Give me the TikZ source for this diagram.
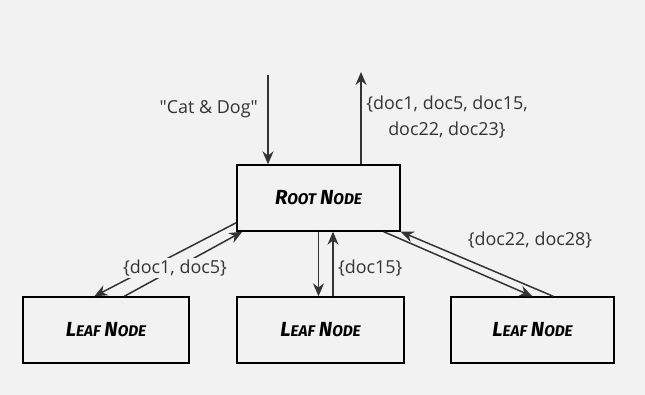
\documentclass[tikz,border=0pt]{standalone}
\usepackage{fontspec}
\setmainfont{Open Sans}
\newfontfamily\docfont{Open Sans}
\newfontfamily\handfont{Fira Sans}
\usetikzlibrary{arrows.meta, calc}
\definecolor{bg}{HTML}{F2F2F2}
\definecolor{ink}{HTML}{333333}
\newcommand{\fakesc}[2]{{\fontsize{11.6}{13}\selectfont #1}{\fontsize{8.8}{13}\selectfont #2}}
\newcommand{\boxlabel}[2]{{\handfont\bfseries\itshape #1 #2}}

\begin{document}
\begin{tikzpicture}[x=0.02cm, y=-0.02cm,
  treebox/.style={draw=black, line width=0.8pt, fill=bg, minimum height=1.32cm, inner sep=0pt},
  flow/.style={draw=ink, line width=0.85pt, -{Stealth[length=2.6mm, width=2.2mm]}},
  doclabel/.style={text=ink, font=\docfont\fontsize{10.2}{14.6}\selectfont}]
\fill[bg] (0,0) rectangle (645,395);
\useasboundingbox (0,0) rectangle (645,395);
% boxes
\node[treebox, minimum width=3.26cm] (root) at (318.5,198) {\boxlabel{\fakesc{R}{OOT}}{\fakesc{N}{ODE}}};
\node[treebox, minimum width=3.32cm] (leafL) at (106,330) {\boxlabel{\fakesc{L}{EAF}}{\fakesc{N}{ODE}}};
\node[treebox, minimum width=3.34cm] (leafM) at (320.5,330) {\boxlabel{\fakesc{L}{EAF}}{\fakesc{N}{ODE}}};
\node[treebox, minimum width=3.26cm] (leafR) at (532.5,330) {\boxlabel{\fakesc{L}{EAF}}{\fakesc{N}{ODE}}};
% query in, result out
\coordinate (query) at (268,75);
\coordinate (result) at (361,72);
\draw[flow] (query) -- (query |- root.north);
\draw[flow] (result |- root.north) -- (result);
\node[doclabel, anchor=east] (querytxt) at (264,109) {"Cat \& Dog"};
\node[doclabel, align=center] (resulttxt) at (447,117) {\{doc1, doc5, doc15,\\doc22, doc23\}};
% root <-> leaves
\draw[flow] ([yshift=0.18cm]root.south west) -- ([xshift=1.44cm]leafL.north west);
\draw[flow] ([xshift=2.04cm]leafL.north west) -- ([xshift=0.12cm]root.south west);
\draw[flow] (root.south) -- (root.south |- leafM.north);
\draw[flow] ([xshift=0.29cm]root.south |- leafM.north) -- ([xshift=0.29cm]root.south);
\draw[flow] ([xshift=-0.34cm]root.south east) -- ([xshift=1.64cm]leafR.north west);
\draw[flow] ([xshift=2.06cm]leafR.north west) -- (root.south east);
\node[doclabel, fill=bg, inner sep=1pt] (leftdocs) at (175,268) {\{doc1, doc5\}};
\node[doclabel, anchor=west, inner sep=1pt] (middocs) at (336,268) {\{doc15\}};
\node[doclabel, inner sep=1pt] (rightdocs) at (530,240) {\{doc22, doc28\}};
\end{tikzpicture}
\end{document}
